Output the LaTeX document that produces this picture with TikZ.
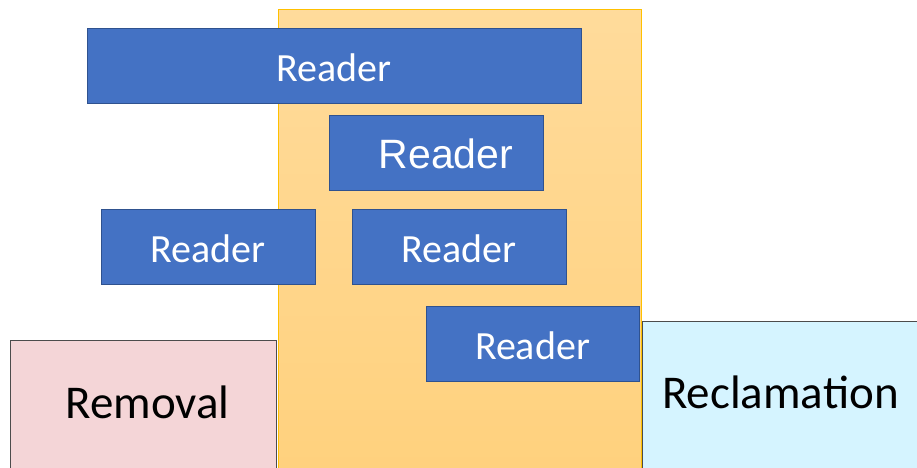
\documentclass[tikz,border=0pt]{standalone}
\usepackage{fontspec}
\setmainfont{Carlito}
\newfontfamily\arialfont{Liberation Sans}
\usetikzlibrary{positioning, calc}

\definecolor{readerblue}{RGB}{68,114,196}
\definecolor{readerline}{RGB}{47,82,143}
\definecolor{zonetop}{RGB}{255,219,155}
\definecolor{zonebottom}{RGB}{255,209,125}
\definecolor{zoneline}{RGB}{255,192,0}
\definecolor{removalpink}{RGB}{244,213,215}
\definecolor{reclaimcyan}{RGB}{213,244,255}

\begin{document}
\begin{tikzpicture}[
    x=1pt, y=-1pt,
    reader/.style={
        draw=readerline,
        fill=readerblue,
        line width=0.8pt,
        text=white,
        inner sep=0pt,
        text height=53pt,
        text depth=22pt,
        font=\fontsize{40}{48}\selectfont
    },
    stage/.style={
        draw=black!70,
        line width=0.8pt,
        inner sep=0pt,
        font=\fontsize{47}{56}\selectfont
    }
]

% Canvas
\useasboundingbox (0,0) rectangle (917,467);
\clip (0,0) rectangle (917,467);

% Orange zone behind the readers
\draw[zoneline, line width=0.8pt, top color=zonetop, bottom color=zonebottom]
    (278,9) rectangle (641,480);

% Readers
\foreach \x/\y/\w/\n in {334/28/494/1, 208/209/214/3, 459/209/214/4, 532.5/306/213/5}
  \node[reader, anchor=north, minimum width=\w] (reader\n) at (\x,\y) {Reader};
\node[reader, anchor=north, minimum width=214, font=\arialfont\fontsize{41}{49}\selectfont]
    (reader2) at (436,115) {\hspace*{20pt}Reader};

% Removal and reclamation stages (run past the bottom edge)
\node[stage, fill=removalpink, anchor=north west, minimum width=266,
      text height=78, text depth=70] (removal) at (10,340) {\hspace*{8pt}Removal};
\node[stage, fill=reclaimcyan, anchor=north west, minimum width=276,
      text height=87, text depth=80] (reclamation) at (642,321) {Reclamation};

\end{tikzpicture}
\end{document}
